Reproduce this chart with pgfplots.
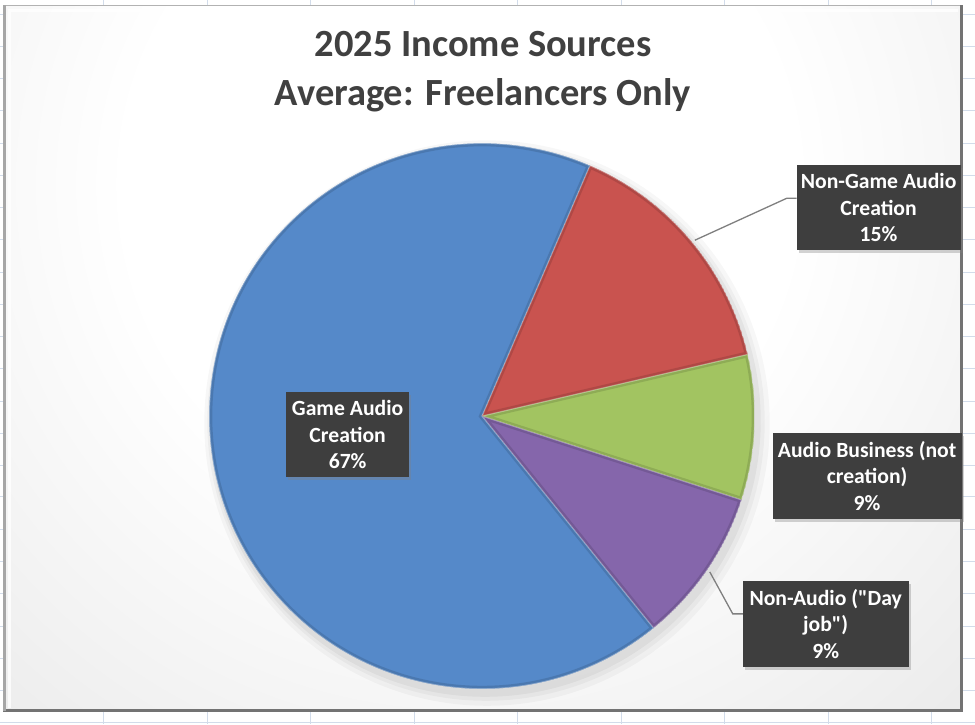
\documentclass[border=0pt]{standalone}
\usepackage{pgfplots}
\pgfplotsset{compat=1.18}
\usepackage{pgfplotstable}
\usepackage{fontspec}
\setmainfont{Carlito}
\usetikzlibrary{shadows}

\definecolor{cBlue}{HTML}{5589C9}
\definecolor{cRed}{HTML}{C9534F}
\definecolor{cGreen}{HTML}{A2C461}
\definecolor{cPurple}{HTML}{8566AB}
\definecolor{boxc}{HTML}{3E3E3E}
\definecolor{titlec}{HTML}{404040}
\definecolor{gridc}{HTML}{D2DCEA}
\definecolor{leadc}{HTML}{7F7F7F}

% slice shares (percent), clockwise from the red/blue boundary
\pgfplotstableread{
name      pct
NonGame   14.9
Business  8.6
NonAudio  9.2
Game      67.3
}\piedata

\pgfmathsetmacro\aA{66.7}
\pgfplotstablegetelem{0}{pct}\of\piedata \pgfmathsetmacro\aB{\aA-3.6*\pgfplotsretval}
\pgfplotstablegetelem{1}{pct}\of\piedata \pgfmathsetmacro\aC{\aB-3.6*\pgfplotsretval}
\pgfplotstablegetelem{2}{pct}\of\piedata \pgfmathsetmacro\aD{\aC-3.6*\pgfplotsretval}
\pgfplotstablegetelem{3}{pct}\of\piedata \pgfmathsetmacro\aE{\aD-3.6*\pgfplotsretval}

\pgfdeclareradialshading{bgshade}{\pgfpoint{0bp}{0bp}}{%
  color(0bp)=(white); color(11bp)=(white); color(38bp)=(black!16); color(50bp)=(black!16)}

\newcommand\slicepath[2]{(axis cs:482,308) -- ++(#1:273pt) arc[start angle=#1, end angle=#2, radius=273pt] -- cycle}
\newcommand\slice[3]{%
  \begin{scope}
    \clip \slicepath{#2}{#3};
    \fill[#1] \slicepath{#2}{#3};
    \draw[#1!65!black, line width=6pt, opacity=0.35] \slicepath{#2}{#3};
    \draw[white, line width=1.2pt, opacity=0.35] \slicepath{#2}{#3};
  \end{scope}}

\tikzset{lbl/.style={fill=boxc, text=white, align=center, inner sep=0pt,
  font=\bfseries\fontsize{21.7}{26.5}\selectfont,
  drop shadow={opacity=0.35, shadow xshift=2pt, shadow yshift=-3pt}}}

\begin{document}
\begin{tikzpicture}
\begin{axis}[
  scale only axis, width=975pt, height=724pt,
  xmin=0, xmax=975, ymin=0, ymax=724,
  hide axis, clip=false]

% spreadsheet background
\fill[white] (axis cs:0,0) rectangle (axis cs:975,724);
\pgfplotsinvokeforeach{103.6,207.2,310.8,414.4,518,621.6,725.2,828.8,932.4}{
  \draw[gridc, line width=1pt] (axis cs:#1,0) -- (axis cs:#1,724);}
\pgfplotsinvokeforeach{1,33,65,97,130,162,194,227,259,291,323,356,388,420,452,485,517,549,581,614,646,678,710}{
  \draw[gridc, line width=1pt] (axis cs:0,#1) -- (axis cs:975,#1);}

% chart area
\begin{scope}
  \clip (axis cs:3,12) rectangle (axis cs:963,719);
  \shade[shading=bgshade] (axis cs:460,540) circle[radius=760pt];
\end{scope}
\draw[black!30, line width=1pt] (axis cs:3,12) rectangle (axis cs:963,719);
\draw[white, line width=3pt, opacity=0.8] (axis cs:9,16) -- (axis cs:9,714) -- (axis cs:958,714);
\draw[black!55, line width=3pt] (axis cs:962,719) -- (axis cs:962,13) -- (axis cs:3,13);
\draw[black!35, line width=2.5pt] (axis cs:4,13) -- (axis cs:4,719);

% title
\node[anchor=base, text=titlec, font=\bfseries\fontsize{38.5}{44}\selectfont] at (axis cs:483,668) {2025 Income Sources};
\node[anchor=base, text=titlec, font=\bfseries\fontsize{38.5}{44}\selectfont] at (axis cs:483,619) {Average: Freelancers Only};

% pie shadow
\fill[black, opacity=0.03] (axis cs:487,301) circle[radius=283pt];
\fill[black, opacity=0.035] (axis cs:486,302) circle[radius=279pt];
\fill[black, opacity=0.045] (axis cs:485,303) circle[radius=276pt];

% pie slices
\slice{cRed}{\aA}{\aB}
\slice{cGreen}{\aB}{\aC}
\slice{cPurple}{\aC}{\aD}
\slice{cBlue}{\aD}{\aE}

% leader lines
\draw[leadc, line width=1.3pt] (axis cs:695,484) -- (axis cs:787,526) -- (axis cs:797,526);
\draw[leadc, line width=1.3pt] (axis cs:710,152) -- (axis cs:733,110) -- (axis cs:743,110);

% data labels
\node[lbl, minimum width=123pt, minimum height=85pt] at (axis cs:347.5,289.5) {Game Audio\\Creation\\67\%};
\node[lbl, minimum width=164pt, minimum height=85pt] at (axis cs:879,516.5) {Non-Game Audio\\Creation\\15\%};
\node[lbl, minimum width=189pt, minimum height=86pt] at (axis cs:867.5,248) {Audio Business (not\\creation)\\9\%};
\node[lbl, minimum width=166pt, minimum height=86pt] at (axis cs:826,100) {Non-Audio (\textquotedbl Day\\job\textquotedbl)\\9\%};

\end{axis}
\end{tikzpicture}
\end{document}
